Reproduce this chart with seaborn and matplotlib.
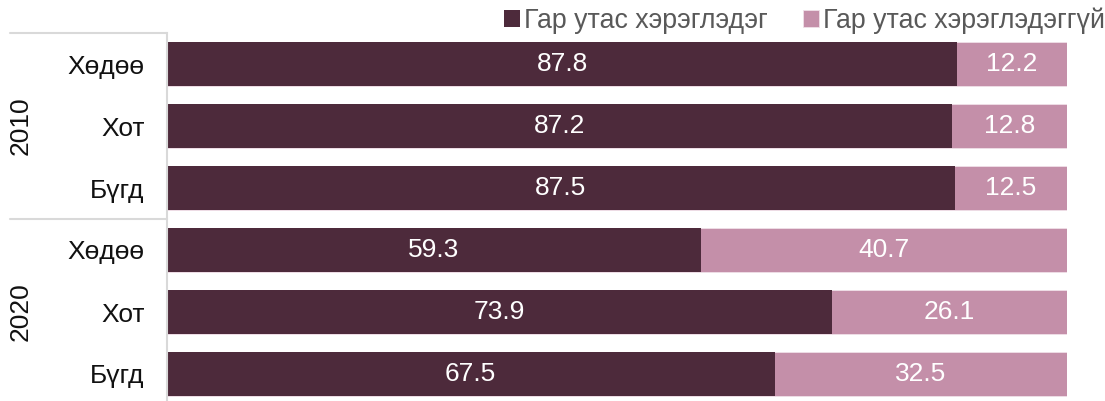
import matplotlib
matplotlib.use("Agg")
import matplotlib.pyplot as plt
import matplotlib.transforms as mtrans
import seaborn as sns
import pandas as pd

years = ["2010", "2010", "2010", "2020", "2020", "2020"]
areas = ["Хөдөө", "Хот", "Бүгд", "Хөдөө", "Хот", "Бүгд"]
used = [87.8, 87.2, 87.5, 59.3, 73.9, 67.5]
not_used = [12.2, 12.8, 12.5, 40.7, 26.1, 32.5]
series_names = ["Гар утас хэрэглэдэг", "Гар утас хэрэглэдэггүй"]

sns.set_theme(style="white")
plt.rcParams["font.family"] = ["Liberation Sans", "DejaVu Sans"]

dark = "#4D2A3B"
light = "#C48FA9"
FS = 19

df = pd.DataFrame({
    "row": [f"{y} {a}" for y, a in zip(years, areas)],
    "used": used,
    "not_used": not_used,
})
df["total"] = df["used"] + df["not_used"]

fig = plt.figure(figsize=(11.05, 4.01), dpi=100)
ax = fig.add_axes([167 / 1105, (401 - 405) / 401, 900 / 1105, 372 / 401])

sns.barplot(data=df, x="total", y="row", orient="h", color=light, width=0.71,
            saturation=1, ax=ax, label=series_names[1], edgecolor="#f0e0e8", linewidth=0.6)
sns.barplot(data=df, x="used", y="row", orient="h", color=dark, width=0.71,
            saturation=1, ax=ax, label=series_names[0], linewidth=0)

for i, (u, n) in enumerate(zip(used, not_used)):
    ax.text(u / 2, i, f"{u:.1f}", color="white", ha="center", va="center", fontsize=FS)
    ax.text(u + n / 2, i, f"{n:.1f}", color="white", ha="center", va="center", fontsize=FS)

ax.set_xlim(0, 100)
ax.set_ylim(5.5, -0.5)
ax.set_xlabel("")
ax.set_ylabel("")
ax.set_xticks([])
ax.set_yticks(range(len(areas)))
ax.set_yticklabels(areas, fontsize=FS, color="#111111")
ax.tick_params(axis="y", length=0, pad=16)
for s in ["top", "right", "bottom"]:
    ax.spines[s].set_visible(False)
ax.spines["left"].set_color("#d9d9d9")
ax.spines["left"].set_linewidth(1.5)

# group separators and year labels
trans = mtrans.blended_transform_factory(ax.transAxes, ax.transData)
x0 = (10 - 167) / 900
for yv in [-0.5, 2.5, 5.5]:
    ax.plot([x0, 0], [yv, yv], transform=trans, color="#d9d9d9", lw=1.5, clip_on=False)
for yr, yc in [("2010", 1), ("2020", 4)]:
    ax.text((21 - 167) / 900, yc, yr, transform=trans, rotation=90,
            ha="center", va="center", fontsize=FS, color="#111111")

handles, labels = ax.get_legend_handles_labels()
order = [labels.index(series_names[0]), labels.index(series_names[1])]
leg = fig.legend([handles[i] for i in order], [labels[i] for i in order],
                 loc="center right", bbox_to_anchor=(1.0 + 12 / 1105, 1 - 21 / 401), ncol=2,
                 frameon=False, fontsize=19.3, handlelength=0.6, handleheight=0.6,
                 handletextpad=0.15, columnspacing=1.3, borderaxespad=0.05)
if ax.get_legend() is not None:
    ax.get_legend().remove()
for t in leg.get_texts():
    t.set_color("#595959")

fig.savefig("out.png", dpi=100)
